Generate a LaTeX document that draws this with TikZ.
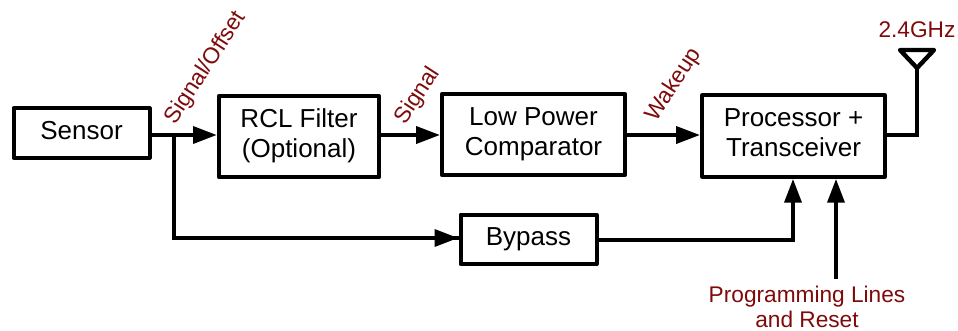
\documentclass[tikz,border=0pt]{standalone}
\usepackage{fontspec}
\setmainfont{Liberation Sans}
\usetikzlibrary{arrows.meta}
\definecolor{labelred}{HTML}{7F0A0A}
\tikzset{
  block/.style={draw, line width=3pt, line join=round, inner sep=0pt, align=center,
    font=\fontsize{19.5}{22.5}\selectfont},
  oneline/.style={text height=9.4pt, text depth=0pt},
  twoline/.style={text height=31pt, text depth=0pt},
  wire/.style={line width=3.3pt},
  signal/.style={text=labelred, inner sep=0pt, align=center, font=\fontsize{17}{18.5}\selectfont},
  flow/.style={wire, -{Triangle[length=18pt,width=12.5pt]}}
}
\begin{document}
\begin{tikzpicture}[x=0.75pt, y=-0.75pt]
\useasboundingbox (0,0) rectangle (958,330);

\node [block, oneline, minimum width=102pt, minimum height=37pt] (sensor) at (81.5,133) {Sensor};
\node [block, twoline, minimum width=120pt, minimum height=61pt] (filter) at (299,136.5) {RCL Filter\\(Optional)};
\node [block, twoline, minimum width=137pt, minimum height=61pt] (comparator) at (533.5,134.5) {Low Power\\Comparator};
\node [block, twoline, minimum width=137pt, minimum height=61pt] (processor) at (793.5,136) {Processor +\\Transceiver};
\node [block, oneline, minimum width=102pt, minimum height=37pt] (bypass) at (528.5,239.5) {Bypass};

\node [signal, rotate=57] (offsetlabel) at (206,68) {Signal/Offset};
\node [signal, rotate=57] (signallabel) at (418,96) {Signal};
\node [signal, rotate=57] (wakeuplabel) at (674,85) {Wakeup};
\node [signal] (freqlabel) at (917,30) {2.4GHz};
\node [signal] (proglabel) at (807,307) {Programming Lines\\and Reset};

\coordinate (tap) at (174,135);
\coordinate (bend) at (174,238);
\coordinate (corner) at (793,240);
\coordinate (progend) at (836,279);
\coordinate (mast) at (917,135);
\coordinate (feed) at (917,68);
\coordinate (tipl) at (900,50);
\coordinate (tipr) at (934,50);

\draw [wire] (sensor.east |- tap) -- (tap);
\draw [wire, line join=miter] (tap) -- (bend) -- (bypass.west |- bend);
\draw [wire] (processor.east |- mast) -- (mast) -- (feed);
\draw [wire, line join=round] (feed) -- (tipl) -- (tipr) -- cycle;

\begin{scope}[flow]
\draw (tap) -- (filter.west |- tap);
\draw (filter.east |- tap) -- (comparator.west |- tap);
\draw (comparator.east |- tap) -- (processor.west |- tap);
\draw (bend) -- (bypass.west |- bend);
\draw (bypass.east |- corner) -- (corner) -- (corner |- processor.south);
\draw (progend) -- (progend |- processor.south);
\end{scope}

\end{tikzpicture}
\end{document}
